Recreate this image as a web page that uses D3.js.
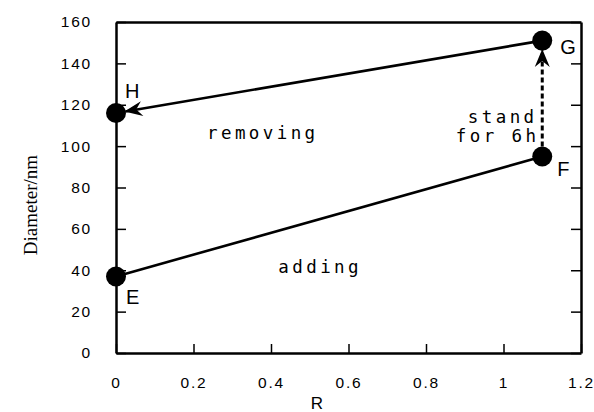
<!DOCTYPE html>
<html>
<head>
<meta charset="utf-8">
<script src="https://cdn.jsdelivr.net/npm/d3@7"></script>
<style>
  html, body { margin: 0; padding: 0; background: #fff; }
</style>
</head>
<body>
<script>
// point data
const pointNames = ['E', 'F', 'G', 'H']
const rValues = [0, 1.1, 1.1, 0]
const diameters = [37, 95, 151, 116]

const xTicks = [0, 0.2, 0.4, 0.6, 0.8, 1, 1.2]
const xTickLabels = ['0', '0.2', '0.4', '0.6', '0.8', '1', '1.2']
const yTicks = [0, 20, 40, 60, 80, 100, 120, 140, 160]

// E->F adding, F->G standing, G->H removing
const segFrom = ['E', 'F', 'G']
const segTo = ['F', 'G', 'H']
const segDashed = [false, true, false]
const segArrow = [false, true, true]

const noteTexts = ['removing', 'adding', 'stand', 'for 6h']
const noteR = [0.235, 0.419, 0.908, 0.877]
const noteD = [103.4, 38.7, 111.2, 102]

const width = 594
const height = 412
const margin = { top: 22, right: 13, bottom: 59, left: 116 }
const radius = 10

const x = d3.scaleLinear().domain([0, 1.2]).range([margin.left, width - margin.right])
const y = d3.scaleLinear().domain([0, 160]).range([height - margin.bottom, margin.top])

const points = pointNames.map((name, i) => ({ name, r: rValues[i], d: diameters[i] }))
const byName = Object.fromEntries(points.map(p => [p.name, p]))

const svg = d3
  .create('svg')
  .attr('width', width)
  .attr('height', height)
  .attr('viewBox', [0, 0, width, height])

svg
  .append('defs')
  .append('marker')
  .attr('id', 'arrow')
  .attr('markerUnits', 'userSpaceOnUse')
  .attr('viewBox', '-18 -9 20 18')
  .attr('refX', 0)
  .attr('refY', 0)
  .attr('markerWidth', 20)
  .attr('markerHeight', 18)
  .attr('orient', 'auto')
  .append('path')
  .attr('d', 'M1,0 L-17,-7.5 L-11,0 L-17,7.5 Z')
  .attr('fill', 'black')

const tickFont = g =>
  g
    .selectAll('text')
    .attr('font-family', 'Liberation Sans, Arial, sans-serif')
    .attr('font-size', 15.5)
    .attr('letter-spacing', 1.8)
    .attr('fill', 'black')

// bottom axis
svg
  .append('g')
  .attr('transform', `translate(0, ${y(0)})`)
  .call(
    d3.axisBottom(x)
      .tickValues(xTicks)
      .tickFormat((d, i) => xTickLabels[i])
      .tickSizeInner(-9)
      .tickSizeOuter(0)
      .tickPadding(24)
  )
  .call(g => g.select('.domain').attr('stroke-width', 2.5))
  .call(g => g.selectAll('.tick line').attr('stroke-width', 1.5))
  .call(tickFont)

// left axis
svg
  .append('g')
  .attr('transform', `translate(${x(0)}, 0)`)
  .call(d3.axisLeft(y).tickValues(yTicks).tickFormat(d3.format('d')).tickSizeInner(-10).tickSizeOuter(0).tickPadding(24))
  .call(g => g.select('.domain').attr('stroke-width', 2.5))
  .call(g => g.selectAll('.tick line').attr('stroke-width', 1.5))
  .call(tickFont)

// right axis, ticks only
svg
  .append('g')
  .attr('transform', `translate(${x(1.2)}, 0)`)
  .call(d3.axisRight(y).tickValues(yTicks).tickFormat('').tickSizeInner(-10).tickSizeOuter(0))
  .call(g => g.select('.domain').attr('stroke-width', 2.5))
  .call(g => g.selectAll('.tick line').attr('stroke-width', 1.5))

// top spine
svg
  .append('g')
  .attr('transform', `translate(0, ${y(160)})`)
  .call(d3.axisTop(x).tickValues([]).tickSizeOuter(0))
  .call(g => g.select('.domain').attr('stroke-width', 2.5))

svg
  .append('text')
  .attr('text-anchor', 'middle')
  .attr('x', 317)
  .attr('y', 409)
  .attr('font-family', 'Liberation Sans, Arial, sans-serif')
  .attr('font-size', 17)
  .attr('fill', 'black')
  .text('R')

svg
  .append('text')
  .attr('text-anchor', 'middle')
  .attr('transform', 'rotate(-90)')
  .attr('x', -205)
  .attr('y', 37)
  .attr('font-family', 'Liberation Serif, Times New Roman, serif')
  .attr('font-size', 19)
  .attr('fill', 'black')
  .text('Diameter/nm')

// segments, trimmed to the circle edges where an arrow ends
const segments = segFrom.map((f, i) => {
  const a = byName[f]
  const b = byName[segTo[i]]
  let x1 = x(a.r), y1 = y(a.d), x2 = x(b.r), y2 = y(b.d)
  const len = Math.hypot(x2 - x1, y2 - y1)
  const ux = (x2 - x1) / len, uy = (y2 - y1) / len
  if (segDashed[i]) {
    x1 += ux * radius
    y1 += uy * radius
  }
  if (segArrow[i]) {
    x2 -= ux * (radius - 0.5)
    y2 -= uy * (radius - 0.5)
  }
  return { x1, y1, x2, y2, dashed: segDashed[i], arrow: segArrow[i] }
})

svg
  .append('g')
  .selectAll('line')
  .data(segments)
  .join('line')
  .attr('x1', d => d.x1)
  .attr('y1', d => d.y1)
  .attr('x2', d => d.x2)
  .attr('y2', d => d.y2)
  .attr('stroke', 'black')
  .attr('stroke-width', d => (d.dashed ? 3 : 2.6))
  .attr('stroke-dasharray', d => (d.dashed ? '5,3' : null))
  .attr('marker-end', d => (d.arrow ? 'url(#arrow)' : null))

svg
  .append('g')
  .selectAll('circle')
  .data(points)
  .join('circle')
  .attr('cx', d => x(d.r))
  .attr('cy', d => y(d.d))
  .attr('r', radius)
  .attr('fill', 'black')

// point letters, offset from each marker
const labelOffset = { E: [10, 28], F: [15, 20], G: [18, 13], H: [9, -15] }
svg
  .append('g')
  .selectAll('text')
  .data(points)
  .join('text')
  .attr('x', d => x(d.r) + labelOffset[d.name][0])
  .attr('y', d => y(d.d) + labelOffset[d.name][1])
  .attr('font-family', 'Liberation Sans, Arial, sans-serif')
  .attr('font-size', 20)
  .attr('fill', 'black')
  .text(d => d.name)

svg
  .append('g')
  .selectAll('text')
  .data(noteTexts)
  .join('text')
  .attr('x', (d, i) => x(noteR[i]))
  .attr('y', (d, i) => y(noteD[i]))
  .attr('font-family', 'DejaVu Sans Mono, monospace')
  .attr('font-size', 17.5)
  .attr('letter-spacing', 3.4)
  .attr('fill', 'black')
  .text(d => d)

document.body.appendChild(svg.node())
</script>
</body>
</html>
